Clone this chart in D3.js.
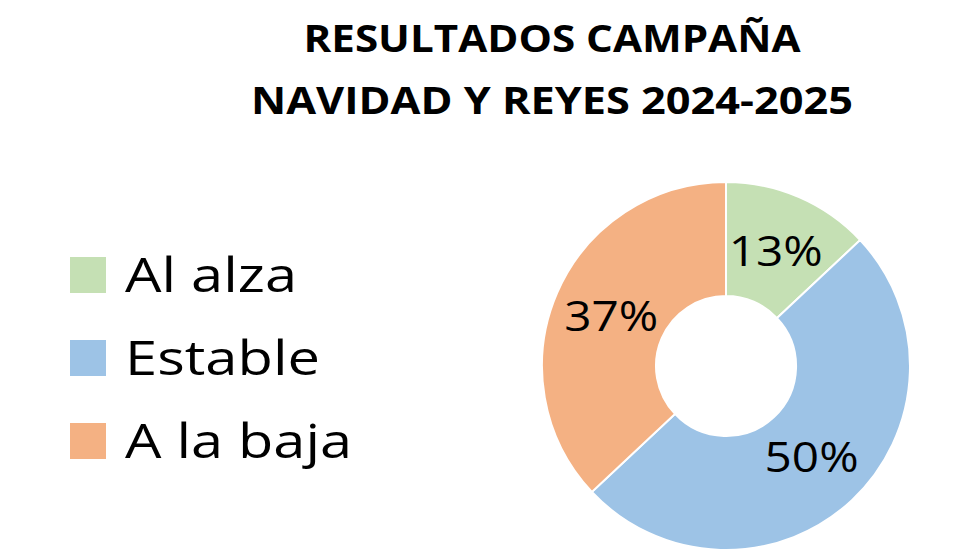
<!DOCTYPE html>
<html><head><meta charset="utf-8">
<script src="https://cdn.jsdelivr.net/npm/d3@7"></script>
<style>body{margin:0;background:#fff}</style>
</head><body>
<svg id="chart" width="980" height="560"></svg>
<script>
// chart data
var categories = ["Al alza", "Estable", "A la baja"];
var values = [13, 50, 37];
var colors = ["#c5e0b4", "#9dc3e6", "#f4b183"];
var titleLines = ["RESULTADOS CAMPAÑA", "NAVIDAD Y REYES 2024-2025"];
var titleWidths = [497, 602];
var legendWidths = [172, 195, 227];

var svg = d3.select("#chart");
var font = "'Open Sans', Lato, sans-serif";

svg.selectAll("text.title").data(titleLines).enter().append("text")
    .attr("x", 552).attr("y", (d, i) => 52 + i * 62)
    .attr("text-anchor", "middle")
    .attr("textLength", (d, i) => titleWidths[i]).attr("lengthAdjust", "spacingAndGlyphs")
    .style("font-family", font).style("font-weight", "bold").style("font-size", "37px")
    .text(d => d);

var cx = 726, cy = 366, outerR = 184, innerR = 70;
var pie = d3.pie().sort(null);
var arc = d3.arc().innerRadius(innerR).outerRadius(outerR);
var arcs = pie(values);
var g = svg.append("g").attr("transform", `translate(${cx},${cy})`);

g.selectAll("path").data(arcs).enter().append("path")
    .attr("d", arc)
    .attr("fill", (d, i) => colors[i])
    .attr("stroke", "#fff").attr("stroke-width", 2);

var labelArc = d3.arc().innerRadius(125).outerRadius(125);
g.selectAll("text").data(arcs).enter().append("text")
    .attr("transform", d => `translate(${labelArc.centroid(d)})`)
    .attr("text-anchor", "middle").attr("dy", "0.36em")
    .attr("textLength", 94).attr("lengthAdjust", "spacingAndGlyphs")
    .style("font-family", font).style("font-size", "42px")
    .text(d => d.data + "%");

var legend = svg.selectAll("g.leg").data(categories).enter().append("g")
    .attr("transform", (d, i) => `translate(70,${275 + i * 83})`);
legend.append("rect").attr("x", 0).attr("y", -18).attr("width", 36).attr("height", 36)
    .attr("fill", (d, i) => colors[i]);
legend.append("text").attr("x", 55).attr("dy", "0.36em")
    .attr("textLength", (d, i) => legendWidths[i]).attr("lengthAdjust", "spacingAndGlyphs")
    .style("font-family", font).style("font-size", "48px")
    .text(d => d);
</script>
</body></html>
